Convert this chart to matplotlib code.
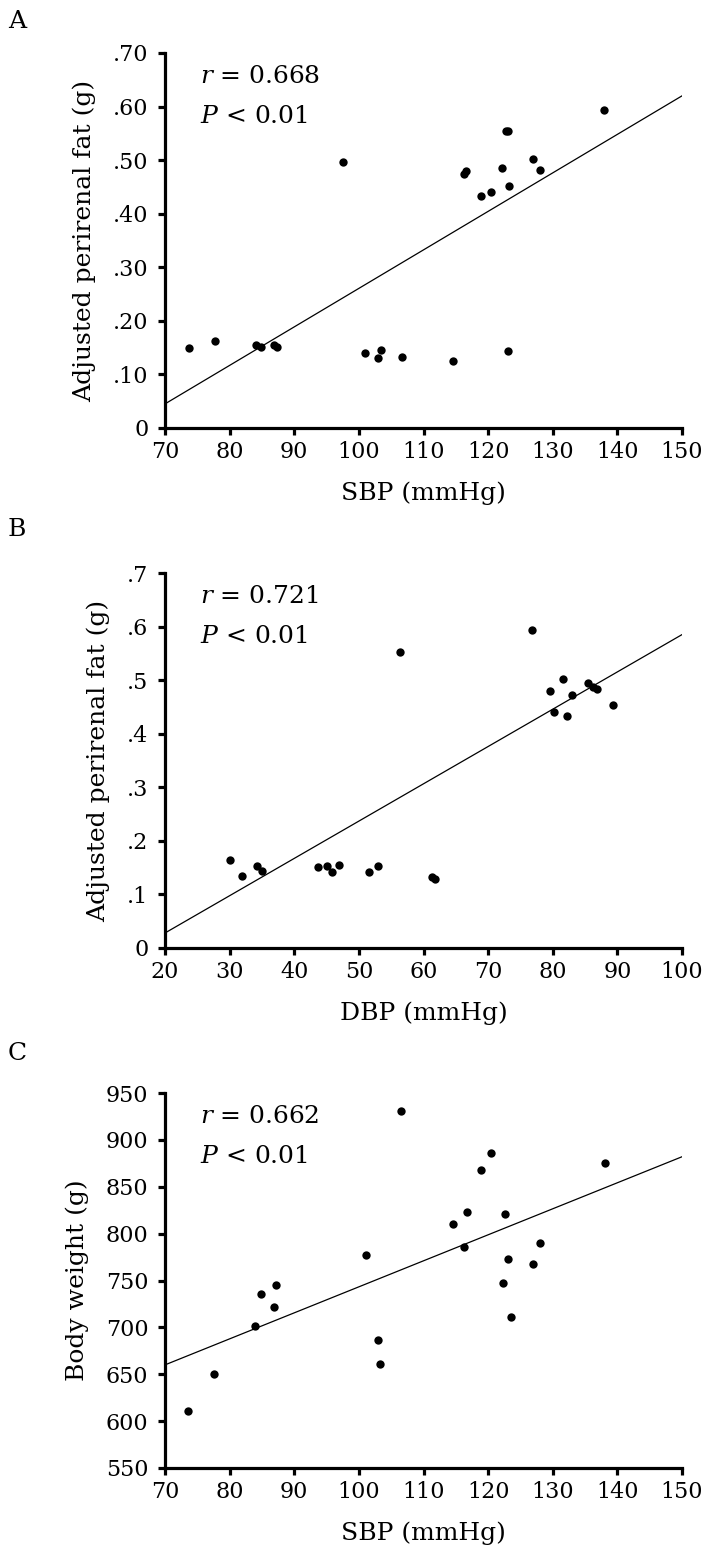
import matplotlib

matplotlib.use("Agg")
import matplotlib.pyplot as plt

plt.rcParams["font.family"] = ["DejaVu Serif"]
plt.rcParams["mathtext.fontset"] = "dejavuserif"

# Panel A: SBP vs adjusted perirenal fat
sbp_a = [73.7, 77.7, 84.1, 84.9, 86.9, 87.3, 101.0, 103.4, 103.0, 106.6, 114.5, 123.0,
         97.6, 116.2, 116.6, 118.9, 120.5, 122.1, 122.7, 123.1, 123.3, 126.9, 128.0, 138.0]
fat_a = [0.150, 0.162, 0.154, 0.152, 0.155, 0.152, 0.140, 0.145, 0.131, 0.133, 0.125, 0.143,
         0.496, 0.474, 0.479, 0.433, 0.440, 0.486, 0.554, 0.554, 0.452, 0.503, 0.481, 0.593]
fit_a_x = [70, 150]
fit_a_y = [0.045, 0.620]

# Panel B: DBP vs adjusted perirenal fat
dbp_b = [30.0, 31.9, 34.2, 35.0, 43.6, 45.1, 45.8, 46.9, 51.6, 52.9, 61.3, 61.8,
         56.3, 76.8, 79.6, 80.2, 81.6, 82.2, 83.0, 85.4, 86.3, 86.8, 89.4]
fat_b = [0.164, 0.135, 0.154, 0.143, 0.151, 0.153, 0.142, 0.155, 0.142, 0.153, 0.132, 0.128,
         0.553, 0.594, 0.480, 0.441, 0.503, 0.434, 0.473, 0.495, 0.487, 0.484, 0.454]
fit_b_x = [20, 100]
fit_b_y = [0.028, 0.585]

# Panel C: SBP vs body weight
sbp_c = [73.6, 77.6, 83.9, 84.8, 86.8, 87.2, 101.1, 103.0, 103.2, 106.5, 114.5,
         116.2, 116.7, 118.9, 120.5, 122.3, 122.6, 123.1, 123.5, 127.0, 128.1, 138.1]
bw_c = [611, 650, 701, 736, 722, 745, 777, 687, 661, 931, 810,
        786, 823, 868, 886, 747, 821, 773, 711, 768, 790, 875]
fit_c_x = [70, 150]
fit_c_y = [660, 882]

sbp_ticks = list(range(70, 151, 10))
dbp_ticks = list(range(20, 101, 10))
fat_ticks = [0, 0.1, 0.2, 0.3, 0.4, 0.5, 0.6, 0.7]
fat_labels_a = ["0", ".10", ".20", ".30", ".40", ".50", ".60", ".70"]
fat_labels_b = ["0", ".1", ".2", ".3", ".4", ".5", ".6", ".7"]
bw_ticks = list(range(550, 951, 50))

W, H = 716, 1564
AX_LEFT, AX_RIGHT = 165, 682  # pixel positions of the x-axis ends
AX_HEIGHT = 375
TEXT_SIZE = 18


def draw_panel(fig, top_px, letter_px, letter, x, y, fit_x, fit_y, xlim, ylim,
               xticks, yticks, yticklabels, xlabel, ylabel, r_text):
    ax = fig.add_axes([AX_LEFT / W, 1 - (top_px + AX_HEIGHT) / H,
                       (AX_RIGHT - AX_LEFT) / W, AX_HEIGHT / H])
    ax.scatter(x, y, s=36, color="black", linewidths=0, zorder=3)
    ax.plot(fit_x, fit_y, color="black", linewidth=0.9)

    ax.set_xlim(*xlim)
    ax.set_ylim(*ylim)
    ax.set_xticks(xticks)
    ax.set_yticks(yticks)
    ax.set_yticklabels(yticklabels)
    for side in ("top", "right"):
        ax.spines[side].set_visible(False)
    for side in ("left", "bottom"):
        ax.spines[side].set_linewidth(2.3)
    ax.tick_params(direction="out", length=5, width=2.3, labelsize=16)
    ax.tick_params(axis="y", pad=7)
    ax.tick_params(axis="x", pad=4)

    ax.set_xlabel(xlabel, fontsize=TEXT_SIZE, labelpad=14)
    ax.set_ylabel(ylabel, fontsize=TEXT_SIZE, labelpad=12)

    ax.text(0.068, 0.92, r"$r$ = " + r_text, transform=ax.transAxes, fontsize=TEXT_SIZE,
            va="baseline", ha="left")
    ax.text(0.068, 0.813, r"$P$ < 0.01", transform=ax.transAxes, fontsize=TEXT_SIZE,
            va="baseline", ha="left")
    fig.text(8 / W, 1 - letter_px / H, letter, fontsize=18, ha="left", va="center")
    return ax


fig = plt.figure(figsize=(W / 100, H / 100), dpi=100)

draw_panel(fig, 53, 21, "A", sbp_a, fat_a, fit_a_x, fit_a_y, (70, 150), (0, 0.7),
           sbp_ticks, fat_ticks, fat_labels_a, "SBP (mmHg)",
           "Adjusted perirenal fat (g)", "0.668")
draw_panel(fig, 573, 530, "B", dbp_b, fat_b, fit_b_x, fit_b_y, (20, 100), (0, 0.7),
           dbp_ticks, fat_ticks, fat_labels_b, "DBP (mmHg)",
           "Adjusted perirenal fat (g)", "0.721")
draw_panel(fig, 1093, 1053, "C", sbp_c, bw_c, fit_c_x, fit_c_y, (70, 150), (550, 950),
           sbp_ticks, bw_ticks, [str(t) for t in bw_ticks], "SBP (mmHg)",
           "Body weight (g)", "0.662")

fig.savefig("out.png", dpi=100)
